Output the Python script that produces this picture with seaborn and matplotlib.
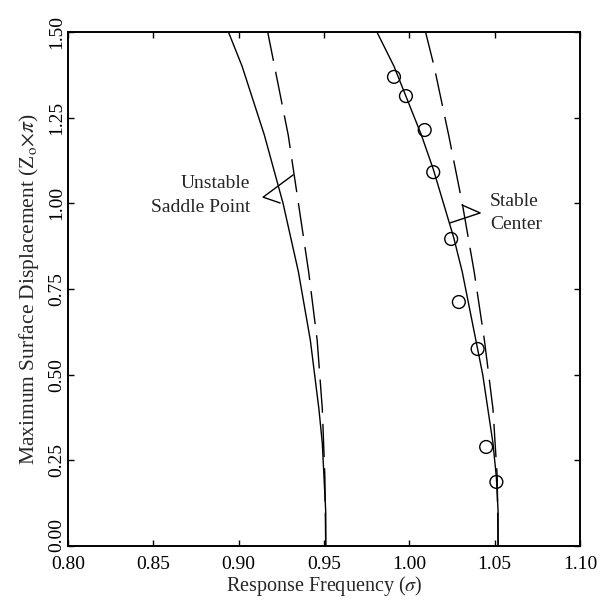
import matplotlib
matplotlib.use('Agg')
import matplotlib.pyplot as plt
import matplotlib.transforms as mtransforms
import seaborn as sns

# backbone curves (amplitude vs response frequency)
unstable_amp = [0.00, 0.10, 0.20, 0.30, 0.40, 0.60, 0.80, 1.00, 1.20, 1.40, 1.50]
unstable_solid = [0.951, 0.951, 0.950, 0.949, 0.947, 0.942, 0.935, 0.926, 0.915, 0.902, 0.894]

unstable_dash_amp = [0.00, 0.20, 0.40, 0.60, 0.80, 1.00, 1.20, 1.40, 1.50]
unstable_dash = [0.951, 0.9505, 0.949, 0.946, 0.941, 0.935, 0.929, 0.921, 0.917]

stable_amp = [0.00, 0.10, 0.20, 0.30, 0.40, 0.50, 0.60, 0.70, 0.80, 0.90,
              1.00, 1.10, 1.20, 1.30, 1.40, 1.50]
stable_solid = [1.052, 1.052, 1.051, 1.049, 1.046, 1.043, 1.039, 1.035, 1.031, 1.026,
                1.020, 1.014, 1.007, 0.999, 0.991, 0.981]

stable_dash_amp = [0.00, 0.20, 0.40, 0.60, 0.80, 1.00, 1.20, 1.40, 1.50]
stable_dash = [1.052, 1.0515, 1.049, 1.044, 1.038, 1.031, 1.023, 1.0145, 1.0095]

# measured points (open circles)
meas_freq = [0.991, 0.998, 1.009, 1.014, 1.0245, 1.029, 1.040, 1.045, 1.051]
meas_amp = [1.369, 1.313, 1.214, 1.091, 0.896, 0.712, 0.575, 0.289, 0.187]

x_ticks = [0.80, 0.85, 0.90, 0.95, 1.00, 1.05, 1.10]
y_ticks = [0.00, 0.25, 0.50, 0.75, 1.00, 1.25, 1.50]

sns.set_style('ticks')
plt.rcParams['font.family'] = ['Liberation Serif', 'DejaVu Serif']
plt.rcParams['mathtext.fontset'] = 'stix'

fig = plt.figure(figsize=(6.09, 6.04), dpi=100)
ax = fig.add_axes([0.1117, 0.0960, 0.8407, 0.851])

sns.lineplot(x=unstable_solid, y=unstable_amp, sort=False, estimator=None,
             color='black', lw=1.0, ax=ax)
sns.lineplot(x=unstable_dash, y=unstable_dash_amp, sort=False, estimator=None,
             color='black', lw=1.0, ax=ax).lines[-1].set_dashes((24, 8))
sns.lineplot(x=stable_solid, y=stable_amp, sort=False, estimator=None,
             color='black', lw=1.0, ax=ax)
sns.lineplot(x=stable_dash, y=stable_dash_amp, sort=False, estimator=None,
             color='black', lw=1.0, ax=ax).lines[-1].set_dashes((24, 8))
sns.scatterplot(x=meas_freq, y=meas_amp, marker='o', s=85, facecolors='none',
                edgecolor='black', linewidth=1.0, ax=ax, zorder=5)

# bracket callouts
ax.plot([0.9319, 0.9143, 0.9243], [1.083, 1.018, 1.001], color='black', lw=1.0)
ax.plot([1.0309, 1.0415, 1.0239], [0.995, 0.972, 0.943], color='black', lw=1.0)
ax.text(0.9067, 1.059, 'Unstable', ha='right', va='center', fontsize=14)
ax.text(0.9067, 0.989, 'Saddle Point', ha='right', va='center', fontsize=14)
ax.text(1.0474, 1.004, 'Stable', ha='left', va='center', fontsize=14)
ax.text(1.0474, 0.937, 'Center', ha='left', va='center', fontsize=14)

ax.set_xlim(0.80, 1.10)
ax.set_ylim(0.00, 1.50)
ax.set_xticks(x_ticks)
ax.set_yticks(y_ticks)
ax.set_xticklabels([f'{v:.2f}' for v in x_ticks])
ax.set_yticklabels([f'{v:.2f}' for v in y_ticks], rotation=90, va='center')
ax.tick_params(direction='in', length=4, width=1, top=True, right=True,
               labelsize=14, colors='black')
ax.tick_params(axis='x', pad=7)
ax.tick_params(axis='y', pad=2)
for spine in ax.spines.values():
    spine.set_linewidth(1.4)
    spine.set_color('black')

# lift the 0.00 label clear of the 0.80 label, as in the original
lbl0 = ax.get_yticklabels()[0]
lbl0.set_transform(lbl0.get_transform() +
                   mtransforms.ScaledTranslation(0, 0.11, fig.dpi_scale_trans))

ax.set_xlabel(r'Response Frequency ($\sigma$)', fontsize=14.5, labelpad=1)
ax.set_ylabel(r'Maximum Surface Displacement (Z$_\mathrm{o}$$\times\pi$)',
              fontsize=15.5, labelpad=5)

fig.savefig('out.png', dpi=100)
